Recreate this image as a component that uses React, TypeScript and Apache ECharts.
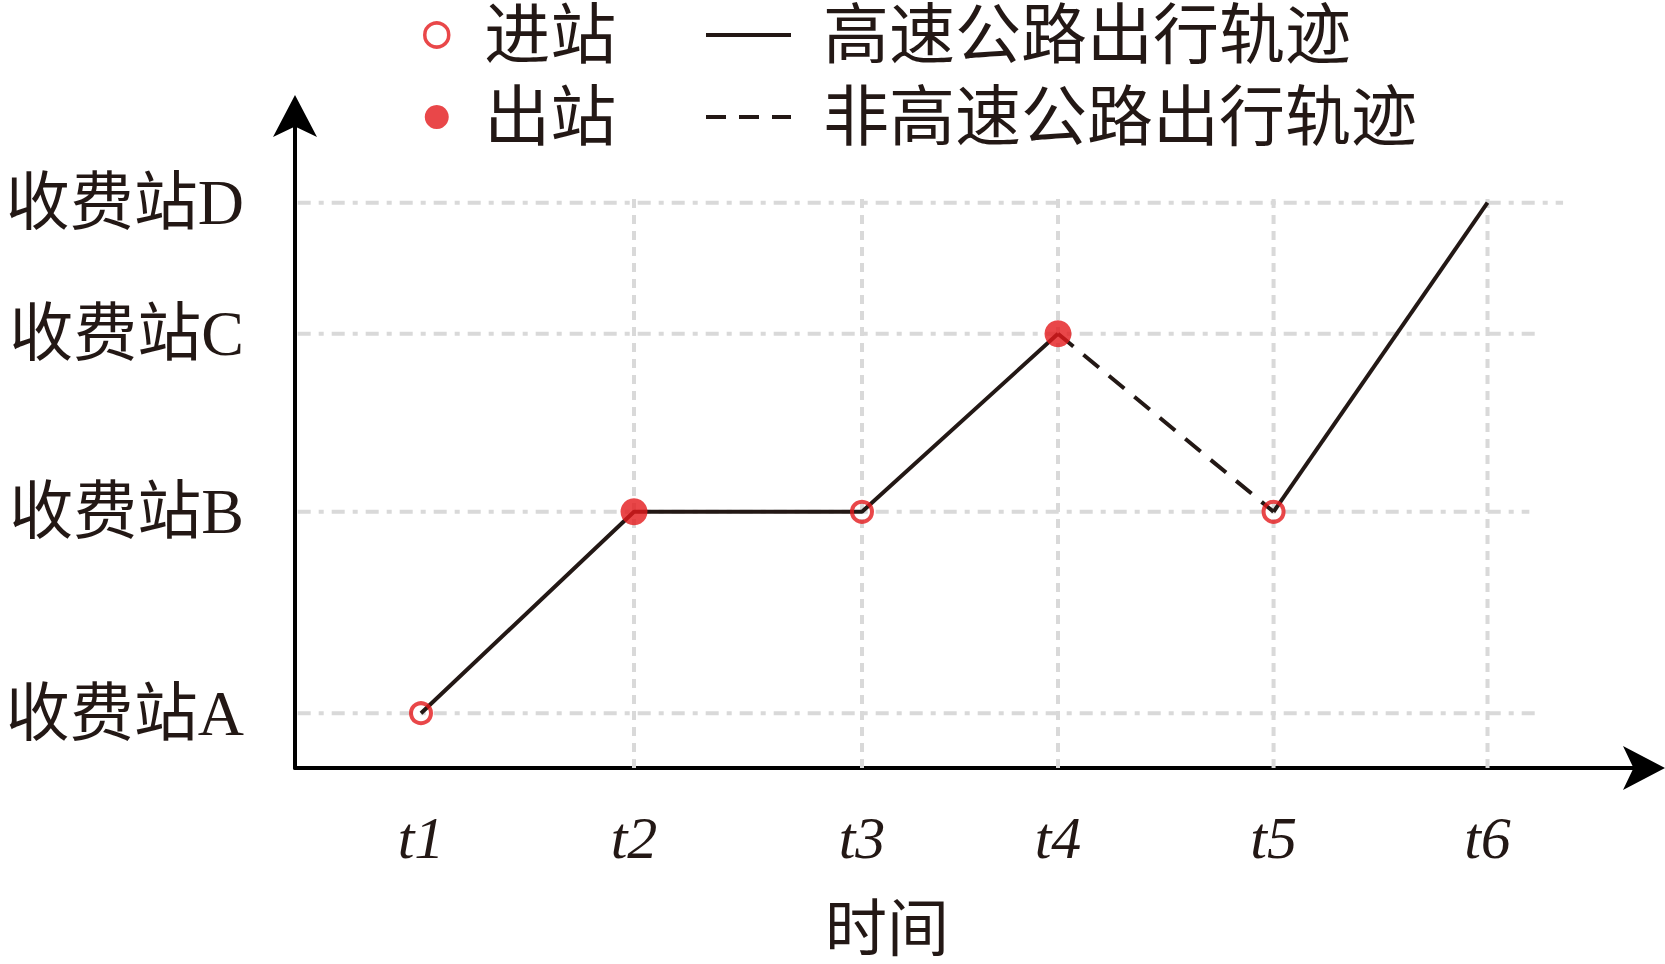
import React, { useEffect, useRef } from "react";
import * as echarts from "echarts";

// ---- data ----
const timeLabels = ["t1", "t2", "t3", "t4", "t5", "t6"];
const timeValues = [9.34, 25.13, 42.03, 56.56, 72.54, 88.4]; // position on the time axis (0-100)
const stationLabels = ["收费站A", "收费站B", "收费站C", "收费站D"];
const stationValues = [8.4, 39.3, 66.6, 86.7]; // position on the station axis (0-100)
const routeStations = ["收费站A", "收费站B", "收费站B", "收费站C", "收费站B", "收费站D"];
const entryTimes = ["t1", "t3", "t5"]; // 进站
const exitTimes = ["t2", "t4"]; // 出站
const segmentModes = ["高速", "高速", "高速", "非高速", "高速"]; // between consecutive times
const hGridStart = 0.2;
const hGridEnds = [92.3, 91.5, 92.3, 94.0];
const vGridTimes = ["t2", "t3", "t4", "t5", "t6"];
const vGridTop = 87.7;

const HIGHWAY = "高速公路出行轨迹";
const NON_HIGHWAY = "非高速公路出行轨迹";
const ENTRY = "进站";
const EXIT = "出站";

const RED = "#e3191c";
const INK = "#231815";
const GRID = "#d9d9d9";
const FONT = "'Liberation Serif', 'Noto Sans CJK SC', serif";

// legend line samples (solid / dashed), drawn as filled bars
const SOLID_ICON = "path://M0,0h85v4h-85z";
const DASH_ICON = "path://M0,0h20v4h-20zM33,0h20v4h-20zM66,0h19v4h-19z";

function pointAt(t: string): [number, number] {
  const i = timeLabels.indexOf(t);
  const s = routeStations[i];
  return [timeValues[i], stationValues[stationLabels.indexOf(s)]];
}

export default function App() {
  const ref = useRef<HTMLDivElement>(null);

  useEffect(() => {
    document.body.style.margin = "0";
    const chart = echarts.init(ref.current!, null, { renderer: "svg" });

    const series: any[] = [];

    // gridlines
    stationValues.forEach((v, i) => {
      series.push({
        type: "line",
        name: "hgrid" + i,
        data: [
          [hGridStart, v],
          [hGridEnds[i], v],
        ],
        symbol: "none",
        silent: true,
        z: 1,
        lineStyle: { color: GRID, width: 4, type: [13, 8, 5, 8] },
      });
    });
    vGridTimes.forEach((t, i) => {
      const x = timeValues[timeLabels.indexOf(t)];
      series.push({
        type: "line",
        name: "vgrid" + i,
        data: [
          [x, 0],
          [x, vGridTop],
        ],
        symbol: "none",
        silent: true,
        z: 1,
        lineStyle: { color: GRID, width: 4, type: [9, 7] },
      });
    });

    // trajectory runs
    let runStart = 0;
    for (let i = 1; i <= segmentModes.length; i++) {
      if (i === segmentModes.length || segmentModes[i] !== segmentModes[runStart]) {
        const mode = segmentModes[runStart];
        const pts = [];
        for (let k = runStart; k <= i; k++) pts.push(pointAt(timeLabels[k]));
        series.push({
          type: "line",
          name: mode === "高速" ? HIGHWAY : NON_HIGHWAY,
          data: pts,
          symbol: "none",
          z: 2,
          lineStyle: {
            color: INK,
            width: 4,
            type: mode === "高速" ? "solid" : [20, 13],
          },
          itemStyle: { color: INK },
        });
        runStart = i;
      }
    }

    series.push({
      type: "scatter",
      name: ENTRY,
      data: entryTimes.map(pointAt),
      symbol: "circle",
      symbolSize: 20,
      z: 3,
      itemStyle: { color: "transparent", borderColor: RED, borderWidth: 4 },
    });
    series.push({
      type: "scatter",
      name: EXIT,
      data: exitTimes.map(pointAt),
      symbol: "circle",
      symbolSize: 27,
      z: 3,
      itemStyle: { color: RED },
    });

    const legendText = {
      fontFamily: FONT,
      fontSize: 66,
      lineHeight: 66,
      color: INK,
    };

    const axisLine = {
      show: true,
      onZero: false,
      symbol: ["none", "arrow"],
      symbolSize: [33, 42],
      symbolOffset: [0, 21],
      lineStyle: { color: "#000", width: 4 },
    };

    chart.setOption({
      animation: false,
      backgroundColor: "#ffffff",
      grid: { left: 295, right: 21, top: 116, bottom: 196, containLabel: false },
      xAxis: {
        type: "value",
        min: 0,
        max: 100,
        axisLine,
        axisTick: { show: false },
        splitLine: { show: false },
        axisLabel: {
          customValues: timeValues,
          formatter: (v: number) => {
            const i = timeValues.findIndex((x) => Math.abs(x - v) < 1e-6);
            return i >= 0 ? timeLabels[i] : "";
          },
          margin: 40,
          fontFamily: FONT,
          fontStyle: "italic",
          fontSize: 60,
          color: INK,
        },
      },
      yAxis: {
        type: "value",
        min: 0,
        max: 100,
        axisLine,
        axisTick: { show: false },
        splitLine: { show: false },
        axisLabel: {
          customValues: stationValues,
          formatter: (v: number) => {
            const i = stationValues.findIndex((x) => Math.abs(x - v) < 1e-6);
            return i >= 0 ? stationLabels[i] : "";
          },
          margin: 51,
          fontFamily: FONT,
          fontSize: 64,
          color: INK,
        },
      },
      legend: [
        {
          orient: "vertical",
          left: 423,
          top: 2,
          padding: 0,
          itemWidth: 85,
          itemHeight: 24,
          itemGap: 16,
          selectedMode: false,
          textStyle: legendText,
          data: [
            { name: ENTRY, itemStyle: { borderWidth: 3.5, borderColor: RED, color: "transparent" } },
            { name: EXIT, itemStyle: { borderWidth: 0 } },
          ],
        },
        {
          orient: "vertical",
          left: 706,
          top: 2,
          padding: 0,
          itemWidth: 85,
          itemHeight: 24,
          itemGap: 16,
          selectedMode: false,
          textStyle: { ...legendText, padding: [0, 0, 0, 27] },
          data: [
            { name: HIGHWAY, icon: SOLID_ICON, itemStyle: { color: INK, borderWidth: 0 } },
            { name: NON_HIGHWAY, icon: DASH_ICON, itemStyle: { color: INK, borderWidth: 0 } },
          ],
        },
      ],
      graphic: [
        {
          type: "text",
          x: 887,
          y: 930,
          style: {
            text: "时间",
            fontFamily: FONT,
            fontSize: 62,
            fill: INK,
            align: "center",
            verticalAlign: "middle",
          },
        },
      ],
      series,
    });

    return () => chart.dispose();
  }, []);

  return (
    <div
      ref={ref}
      style={{ position: "absolute", left: 0, top: 0, width: 1665, height: 964 }}
    />
  );
}
